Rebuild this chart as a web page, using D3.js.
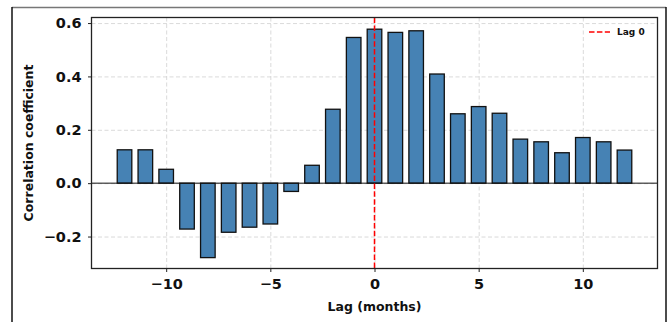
<!DOCTYPE html>
<html>
<head>
<meta charset="utf-8">
<script src="https://cdn.jsdelivr.net/npm/d3@7"></script>
<style>
  body { margin: 0; background: #fff; }
  svg { display: block; font-family: "DejaVu Sans", sans-serif; font-weight: bold; }
  .grid line { stroke: #d0d0d0; stroke-width: 0.8; stroke-dasharray: 4,2.5; }
  .grid .domain { display: none; }
</style>
</head>
<body>
<div id="chart-area"></div>
<script>
// lag correlation, lags -12..12 months
const lags = [-12, -11, -10, -9, -8, -7, -6, -5, -4, -3, -2, -1, 0, 1, 2, 3, 4, 5, 6, 7, 8, 9, 10, 11, 12]
const corr = [0.125, 0.125, 0.052, -0.172, -0.279, -0.184, -0.165, -0.153, -0.031, 0.067, 0.277, 0.546,
  0.577, 0.565, 0.571, 0.409, 0.260, 0.287, 0.262, 0.165, 0.155, 0.114, 0.171, 0.155, 0.124]
const xTicks = [-10, -5, 0, 5, 10]
const yTicks = [-0.2, 0.0, 0.2, 0.4, 0.6]

const W = 671, H = 322
const MARGIN = { LEFT: 91.5, RIGHT: 13.5, TOP: 17.5, BOTTOM: 53.5 }
const WIDTH = W - MARGIN.LEFT - MARGIN.RIGHT
const HEIGHT = H - MARGIN.TOP - MARGIN.BOTTOM
const BAR_W = 0.7

const svg = d3.select("#chart-area").append("svg")
  .attr("width", W)
  .attr("height", H)

// outer frame
svg.append("line").attr("x1", 12).attr("x2", 666).attr("y1", 7.5).attr("y2", 7.5)
  .attr("stroke", "#777").attr("stroke-width", 1.5)
svg.append("line").attr("x1", 12).attr("x2", 12).attr("y1", 7).attr("y2", H)
  .attr("stroke", "#111").attr("stroke-width", 1.5)
svg.append("line").attr("x1", 666).attr("x2", 666).attr("y1", 7).attr("y2", H)
  .attr("stroke", "#111").attr("stroke-width", 1.5)

const g = svg.append("g")
  .attr("transform", `translate(${MARGIN.LEFT}, ${MARGIN.TOP})`)

const x = d3.scaleLinear()
  .domain([-13.585, 13.585])
  .range([0, WIDTH])

const y = d3.scaleLinear()
  .domain([-0.3198, 0.6208])
  .range([HEIGHT, 0])

// grid
g.append("g")
  .attr("class", "grid")
  .attr("transform", `translate(0, ${HEIGHT})`)
  .call(d3.axisBottom(x).tickValues(xTicks).tickSize(-HEIGHT).tickFormat(""))
g.append("g")
  .attr("class", "grid")
  .call(d3.axisLeft(y).tickValues(yTicks).tickSize(-WIDTH).tickFormat(""))

// bars
g.selectAll("rect.bar")
  .data(lags)
  .enter().append("rect")
  .attr("class", "bar")
  .attr("x", d => x(d - BAR_W / 2))
  .attr("width", x(BAR_W) - x(0))
  .attr("y", (d, i) => y(Math.max(0, corr[i])))
  .attr("height", (d, i) => Math.abs(y(corr[i]) - y(0)))
  .attr("fill", "#4682b4")
  .attr("stroke", "#111")
  .attr("stroke-width", 1.3)

// zero line
g.append("line")
  .attr("x1", 0).attr("x2", WIDTH)
  .attr("y1", y(0)).attr("y2", y(0))
  .attr("stroke", "#111").attr("stroke-width", 1)

// lag 0 marker
g.append("line")
  .attr("x1", x(0)).attr("x2", x(0))
  .attr("y1", 0).attr("y2", HEIGHT)
  .attr("stroke", "#ff0000").attr("stroke-width", 1.5)
  .attr("stroke-dasharray", "5.5,2.4")

// axes
const xAxis = g.append("g")
  .attr("transform", `translate(0, ${HEIGHT})`)
  .call(d3.axisBottom(x).tickValues(xTicks).tickSizeOuter(0).tickSize(3.5).tickPadding(7)
    .tickFormat(d => d < 0 ? "\u2212" + Math.abs(d) : d))
const yAxis = g.append("g")
  .call(d3.axisLeft(y).tickValues(yTicks).tickSizeOuter(0).tickSize(3.5).tickPadding(6.5)
    .tickFormat(d => d < 0 ? "\u2212" + Math.abs(d).toFixed(1) : d.toFixed(1)))

;[xAxis, yAxis].forEach(a => {
  a.select(".domain").remove()
  a.selectAll("line").attr("stroke", "#222").attr("stroke-width", 1)
  a.selectAll("text").attr("fill", "#111")
    .style("font-family", "'DejaVu Sans', sans-serif")
    .style("font-weight", "bold").style("font-size", "14.5px")
})

// spines
g.append("rect")
  .attr("width", WIDTH).attr("height", HEIGHT)
  .attr("fill", "none").attr("stroke", "#222").attr("stroke-width", 1.3)

// axis labels
svg.append("text")
  .attr("x", MARGIN.LEFT + WIDTH / 2).attr("y", 310.5)
  .attr("text-anchor", "middle")
  .style("font-size", "12.5px").attr("fill", "#111")
  .text("Lag (months)")

svg.append("text")
  .attr("transform", `translate(33, ${MARGIN.TOP + HEIGHT / 2}) rotate(-90)`)
  .attr("text-anchor", "middle")
  .style("font-size", "12.5px").attr("fill", "#111")
  .text("Correlation coefficient")

// legend
const leg = svg.append("g").attr("transform", "translate(589, 32)")
leg.append("line").attr("x1", 0).attr("x2", 21).attr("y1", 0).attr("y2", 0)
  .attr("stroke", "#ff0000").attr("stroke-width", 1.5).attr("stroke-dasharray", "5.5,2.4")
leg.append("text").attr("x", 28).attr("y", 3.3)
  .style("font-size", "9px").attr("fill", "#111")
  .text("Lag 0")
</script>
</body>
</html>
